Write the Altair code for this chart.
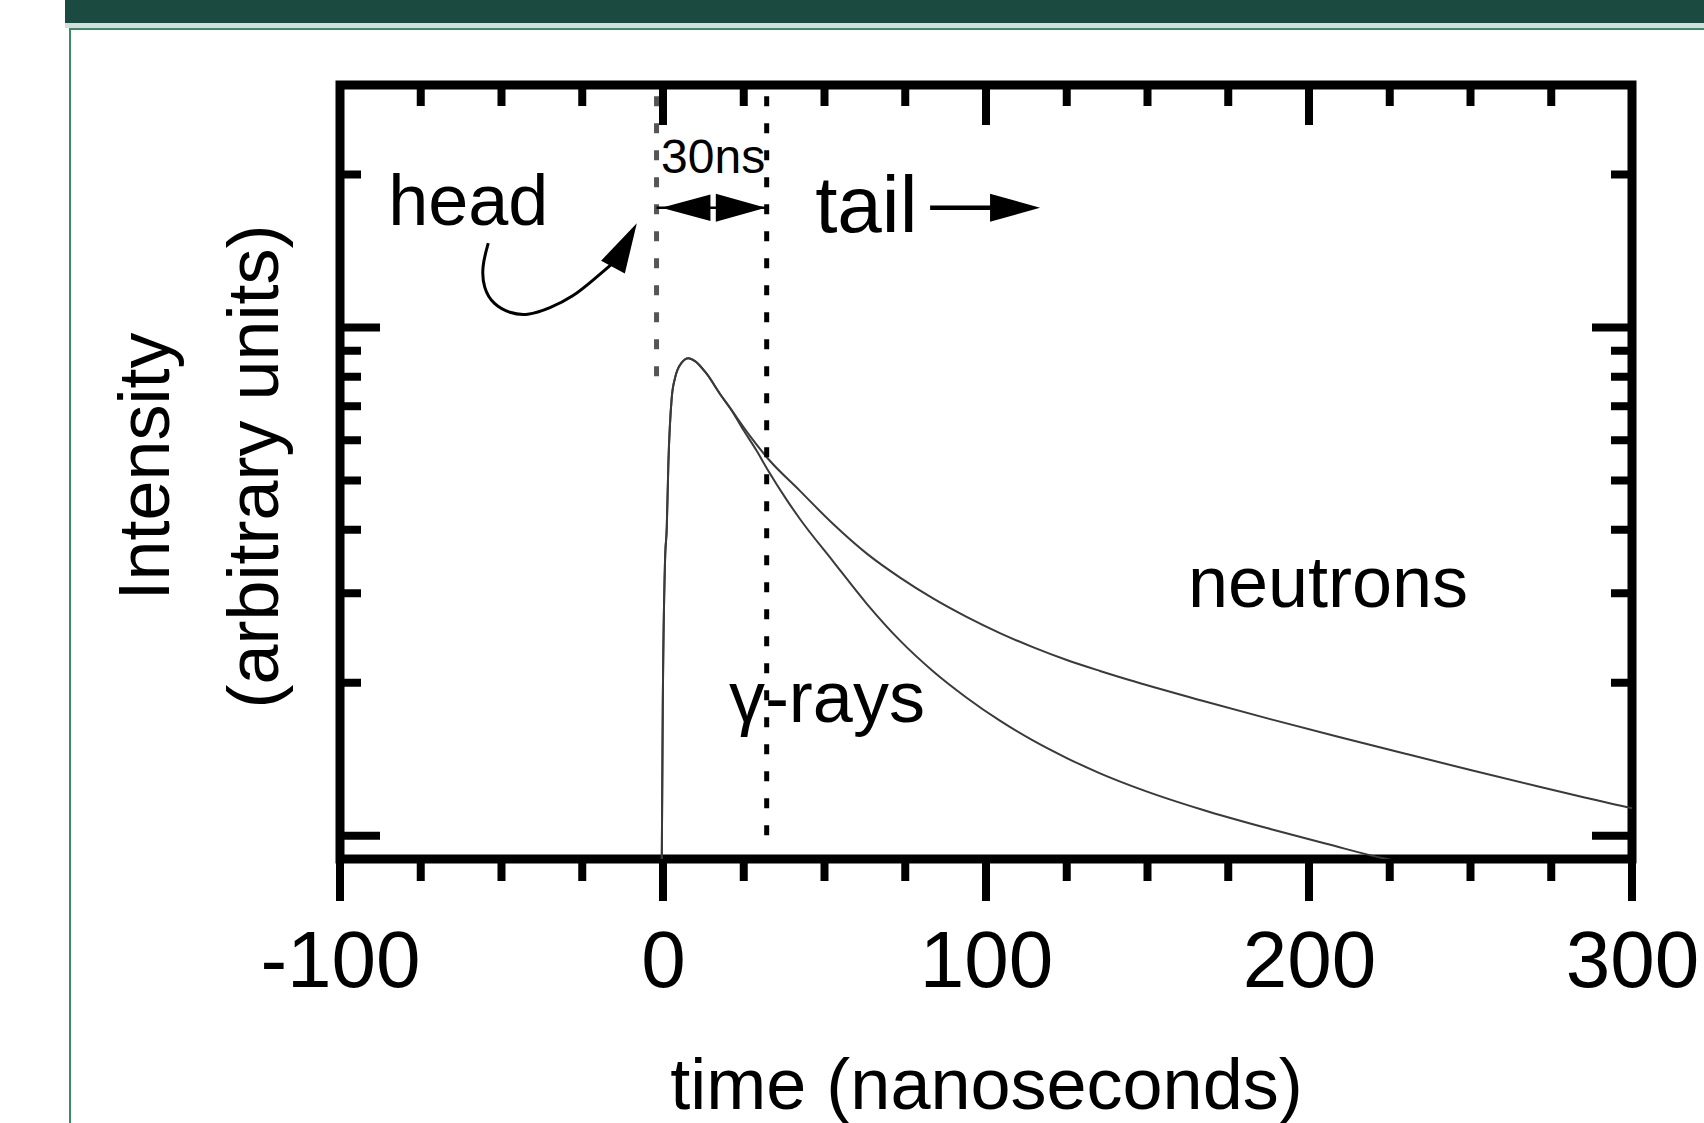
import altair as alt
import pandas as pd

# ---------------- data ----------------
# shared rising edge and peak (time in ns, intensity in arbitrary units)
rise_t = [-0.4, -0.07, 0.64, 1.16, 1.66, 2.7, 3.73, 5.8, 7.85, 9.9, 13.5, 17.7, 20.8]
rise_i = [0.85, 1.79, 3.49, 4.03, 5.39, 7.27, 7.96, 8.53, 8.70, 8.59, 8.11, 7.39, 6.94]

neutron_t = [26.9, 32.4, 42.4, 52.6, 63.1, 73.4, 83.6, 94, 104.3, 114.5, 125, 135.3,
             146, 167, 188, 209, 230, 250, 271, 285, 298, 300]
neutron_i = [6.12, 5.53, 4.77, 4.11, 3.59, 3.22, 2.93, 2.695, 2.504, 2.35, 2.217, 2.11,
             2.011, 1.843, 1.696, 1.566, 1.449, 1.347, 1.25, 1.191, 1.14, 1.133]

gamma_t = [24.8, 29, 32.4, 38.3, 42.4, 52.6, 63.1, 73.4, 83.6, 94, 104.3, 114.5, 125,
           135.3, 149, 167, 188, 206, 223, 230]
gamma_i = [6.3, 5.72, 5.25, 4.58, 4.2, 3.47, 2.86, 2.42, 2.107, 1.869, 1.684, 1.54, 1.422,
           1.327, 1.227, 1.125, 1.031, 0.962, 0.903, 0.885]

x_major = [-100, 0, 100, 200, 300]
x_minor = [-75, -50, -25, 25, 50, 75, 125, 150, 175, 225, 250, 275]
y_major = [1, 10]
y_minor = [2, 3, 4, 5, 6, 7, 8, 9, 20]

# annotation anchors (data units)
head_window_t = [-2, 32.1]          # dotted window edges
head_window_top = [28.5, 28.5]
head_window_bottom = [7.78, 0.946]
arrow_level = 17.2                   # level of the 30ns / tail arrows
tail_arrow_t = [82.7, 102.8, 109.0]  # line start, line end, head centre
span_heads_t = [7.1, 24.1]           # left head centre, right head centre
curve_arrow_t = [-54.1, -56.1, -55.6, -52.5, -47.4, -42.2, -35.0, -27.8, -21.6, -15.8]
curve_arrow_i = [14.65, 13.18, 11.95, 11.08, 10.67, 10.54, 10.91, 11.50, 12.40, 13.34]
curve_head = (-11.8, 14.52)

labels = [
    ("head", -85.1, 15.92, 72),
    ("30ns", -0.6, 20.15, 48),
    ("tail", 47.1, 15.44, 80),
    ("neutrons", 162.5, 2.82, 72),
    ("\u03b3-rays", 20.4, 1.677, 72),
]

# ---------------- layout ----------------
W, H = 1292, 774
LEFT, TOP = 340, 85
FONT = "Liberation Sans"

xs = alt.Scale(domain=[-100, 300], nice=False, zero=False)
ys = alt.Scale(type="log", domain=[0.9, 30], nice=False)

curves = pd.concat([
    pd.DataFrame({"t": rise_t + neutron_t, "I": rise_i + neutron_i, "series": "neutrons"}),
    pd.DataFrame({"t": rise_t + gamma_t, "I": rise_i + gamma_i, "series": "gamma"}),
])

x_axis = alt.Axis(values=x_major, labelExpr="'' + datum.value", domain=False, ticks=False,
                  tickSize=0, grid=False, labelFont=FONT, labelFontSize=80, labelColor="black",
                  labelPadding=127, labelBaseline="alphabetic", labelFlush=False,
                  labelOverlap=False, title="time (nanoseconds)", titleFont=FONT,
                  titleFontSize=72, titleFontWeight="normal", titleColor="black",
                  titleY=249, titleX=W / 2, titleBaseline="alphabetic", titleAlign="center")
y_axis = alt.Axis(labels=False, ticks=False, domain=False, grid=False,
                  title=["Intensity", "(arbitrary units)"], titleFont=FONT, titleFontSize=72,
                  titleFontWeight="normal", titleColor="black", titleAngle=270,
                  titleX=-194, titleY=381, titleBaseline="middle", titleAlign="center",
                  titleLineHeight=109)

X = lambda f="t": alt.X(f"{f}:Q", scale=xs, axis=x_axis)
Y = lambda f="I": alt.Y(f"{f}:Q", scale=ys, axis=y_axis)

lines = alt.Chart(curves).mark_line(clip=True, strokeWidth=2, color="#3a3a3a",
                                    interpolate="monotone").encode(
    x=X(), y=Y(), detail="series:N",
)

TICK_W = 8
MAJ, MIN = 40, 21
ymaj = pd.DataFrame({"I": y_major})
ymin = pd.DataFrame({"I": y_minor})
xmaj = pd.DataFrame({"t": x_major})
xmin = pd.DataFrame({"t": x_minor})

def rule(df, **enc):
    return alt.Chart(df).mark_rule(color="black", strokeWidth=TICK_W).encode(**enc)

ticks = [
    rule(ymaj, y=Y(), x=alt.value(0), x2=alt.value(MAJ)),
    rule(ymin, y=Y(), x=alt.value(0), x2=alt.value(MIN)),
    rule(ymaj, y=Y(), x=alt.value(W - MAJ), x2=alt.value(W)),
    rule(ymin, y=Y(), x=alt.value(W - MIN), x2=alt.value(W)),
    rule(xmaj, x=X(), y=alt.value(0), y2=alt.value(MAJ)),
    rule(xmin, x=X(), y=alt.value(0), y2=alt.value(MIN)),
    rule(xmaj, x=X(), y=alt.value(H), y2=alt.value(H + MAJ + 2)),
    rule(xmin, x=X(), y=alt.value(H), y2=alt.value(H + MIN + 1)),
]

# dotted window lines
win = pd.DataFrame({"t": head_window_t, "I": head_window_top, "I2": head_window_bottom})
dot1 = alt.Chart(win.iloc[[0]]).mark_rule(color="#555555", strokeWidth=5,
                                           strokeDash=[10, 17]).encode(x=X(), y=Y(), y2="I2:Q")
dot2 = alt.Chart(win.iloc[[1]]).mark_rule(color="black", strokeWidth=5,
                                           strokeDash=[10, 17]).encode(x=X(), y=Y(), y2="I2:Q")

# 30ns span arrow
span_line = alt.Chart(pd.DataFrame({"t": [head_window_t[0]], "t2": [head_window_t[1]],
                                    "I": [arrow_level]})).mark_rule(
    color="black", strokeWidth=2.5).encode(x=X(), x2="t2:Q", y=Y())
LEFT_HEAD = "M-1,0L1,-0.54L1,0.54Z"
RIGHT_HEAD = "M1,0L-1,-0.56L-1,0.56Z"
UP_HEAD = "M0,-1L0.54,1L-0.54,1Z"
span_l = alt.Chart(pd.DataFrame({"t": [span_heads_t[0]], "I": [arrow_level]})).mark_point(
    shape=LEFT_HEAD, size=2400, filled=True, color="black", opacity=1).encode(x=X(), y=Y())
span_r = alt.Chart(pd.DataFrame({"t": [span_heads_t[1]], "I": [arrow_level]})).mark_point(
    shape=RIGHT_HEAD, size=2500, filled=True, color="black", opacity=1).encode(x=X(), y=Y())

# tail arrow
tail_line = alt.Chart(pd.DataFrame({"t": [tail_arrow_t[0]], "t2": [tail_arrow_t[1]],
                                    "I": [arrow_level]})).mark_rule(
    color="black", strokeWidth=4.5).encode(x=X(), x2="t2:Q", y=Y())
tail_head = alt.Chart(pd.DataFrame({"t": [tail_arrow_t[2]], "I": [arrow_level]})).mark_point(
    shape=RIGHT_HEAD, size=2500, filled=True, color="black", opacity=1).encode(x=X(), y=Y())

# curved "head" arrow
carrow = pd.DataFrame({"t": curve_arrow_t, "I": curve_arrow_i,
                       "k": list(range(len(curve_arrow_t)))})
curve_line = alt.Chart(carrow).mark_line(color="black", strokeWidth=3,
                                         interpolate="basis").encode(
    x=X(), y=Y(), order="k:Q")
curve_tip = alt.Chart(pd.DataFrame({"t": [curve_head[0]], "I": [curve_head[1]]})).mark_point(
    shape=UP_HEAD, size=2500, angle=28.5, filled=True, color="black", opacity=1).encode(
    x=X(), y=Y())

texts = [
    alt.Chart(pd.DataFrame({"t": [tx], "I": [iy], "label": [s]})).mark_text(
        align="left", baseline="alphabetic", font=FONT, fontSize=fs, color="black").encode(
        x=X(), y=Y(), text="label:N")
    for s, tx, iy, fs in labels
]

# page header decoration
one = pd.DataFrame({"k": [0]})
band = alt.Chart(one).mark_rect(color="#1b4a40").encode(
    x=alt.value(65 - LEFT), x2=alt.value(1704 - LEFT), y=alt.value(-TOP), y2=alt.value(23 - TOP))
band2 = alt.Chart(one).mark_rect(color="#d3dfdb").encode(
    x=alt.value(65 - LEFT), x2=alt.value(1704 - LEFT), y=alt.value(23 - TOP), y2=alt.value(28 - TOP))
gline = alt.Chart(one).mark_rect(color="#3b8a69").encode(
    x=alt.value(69 - LEFT), x2=alt.value(1704 - LEFT), y=alt.value(28 - TOP), y2=alt.value(30 - TOP))
vline = alt.Chart(one).mark_rect(color="#3b8a69").encode(
    x=alt.value(69 - LEFT), x2=alt.value(71 - LEFT), y=alt.value(28 - TOP), y2=alt.value(1123 - TOP))

chart = alt.layer(
    lines, band, band2, gline, vline, *ticks, dot1, dot2, span_line, span_l, span_r,
    tail_line, tail_head, curve_line, curve_tip, *texts
).properties(
    width=W, height=H, background="white",
    padding={"left": LEFT, "top": TOP, "right": 1704 - LEFT - W, "bottom": 1123 - TOP - H},
    autosize=alt.AutoSizeParams(type="none"),
).configure_view(stroke="black", strokeWidth=9)

chart.save("out.html", embed_options={"renderer": "svg", "actions": False})
